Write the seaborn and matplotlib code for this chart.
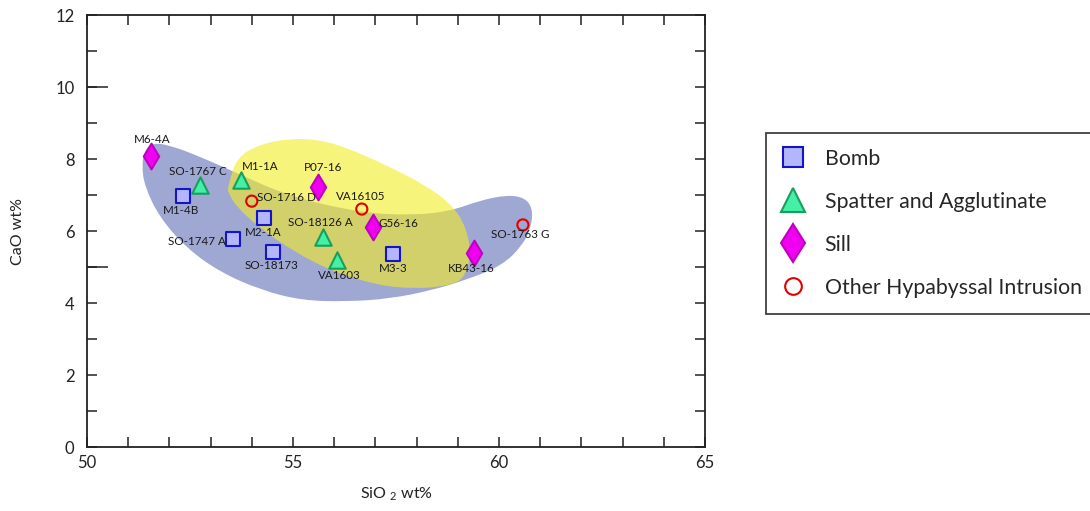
import numpy as np
import pandas as pd
import seaborn as sns
import matplotlib.pyplot as plt
from matplotlib.path import Path
from matplotlib.patches import PathPatch

# samples by type (SiO2 wt%, CaO wt%)
bomb_names = ["M1-4B", "M2-1A", "SO-1747 A", "SO-18173", "M3-3"]
bomb_sio2 = [52.33, 54.30, 53.54, 54.51, 57.43]
bomb_cao = [6.97, 6.36, 5.78, 5.42, 5.36]

spatter_names = ["SO-1767 C", "M1-1A", "SO-18126 A", "VA1603"]
spatter_sio2 = [52.74, 53.74, 55.73, 56.07]
spatter_cao = [7.27, 7.42, 5.83, 5.19]

sill_names = ["M6-4A", "P07-16", "G56-16", "KB43-16"]
sill_sio2 = [51.55, 55.61, 56.94, 59.39]
sill_cao = [8.08, 7.22, 6.11, 5.39]

other_names = ["SO-1716 D", "VA16105", "SO-1763 G"]
other_sio2 = [54.00, 56.67, 60.58]
other_cao = [6.83, 6.61, 6.17]

# shaded fields (outline vertices)
blue_field_sio2 = [51.60, 52.01, 52.67, 53.54, 54.93, 56.70, 57.91, 58.81, 59.54, 60.19,
                   60.62, 60.82, 60.78, 60.58, 60.08, 59.17, 58.35, 57.35, 56.31, 55.22,
                   54.22, 53.23, 52.42, 51.76, 51.40, 51.33, 51.40]
blue_field_cao = [8.45, 8.38, 8.10, 7.66, 6.95, 6.50, 6.44, 6.55, 6.85, 7.00,
                  6.93, 6.62, 6.11, 5.62, 5.04, 4.63, 4.35, 4.12, 4.04, 4.07,
                  4.36, 4.86, 5.52, 6.38, 7.24, 7.82, 8.25]
yellow_field_sio2 = [53.42, 53.63, 54.22, 54.93, 55.62, 56.27, 57.25, 58.24, 58.90, 59.23,
                     59.32, 59.13, 58.68, 57.91, 57.08, 56.01, 55.03, 54.20, 53.63, 53.42]
yellow_field_cao = [7.22, 8.05, 8.42, 8.57, 8.54, 8.33, 7.84, 7.26, 6.69, 6.03,
                    5.24, 4.64, 4.46, 4.40, 4.49, 4.85, 5.42, 6.08, 6.67, 7.08]

# label placement: offset in pixels from the point, alignment
label_pos = {
    "M6-4A": (1, 17, "center"), "SO-1767 C": (-2, 14, "center"),
    "M1-4B": (-2, -14, "center"), "M1-1A": (1, 13, "left"),
    "SO-1716 D": (5, 4, "left"), "P07-16": (5, 20, "center"),
    "VA16105": (-1, 13, "center"), "SO-18126 A": (-3, 15, "center"),
    "G56-16": (6, 4, "left"), "M2-1A": (-1, -14, "center"),
    "SO-1747 A": (-7, -3, "right"), "SO-18173": (-1, -14, "center"),
    "VA1603": (2, -15, "center"), "M3-3": (0, -14, "center"),
    "KB43-16": (-3, -16, "center"), "SO-1763 G": (-3, -10, "center"),
}

sns.set_style("ticks")
plt.rcParams['font.family'] = ['Lato', 'DejaVu Sans']
plt.rcParams['mathtext.default'] = 'regular'


def smooth_field(xs, ys):
    pts = np.column_stack([xs, ys])
    mids = (pts + np.roll(pts, -1, axis=0)) / 2
    verts = [mids[-1]]
    codes = [Path.MOVETO]
    for i in range(len(pts)):
        verts += [pts[i], mids[i]]
        codes += [Path.CURVE3, Path.CURVE3]
    return Path(verts, codes)


fig = plt.figure(figsize=(10.9, 5.11), dpi=100)
ax = fig.add_axes([0.0798, 0.1252, 0.567, 0.8454])

ax.add_patch(PathPatch(smooth_field(blue_field_sio2, blue_field_cao),
                       facecolor='#9fa7d3', edgecolor='none', zorder=1))
ax.add_patch(PathPatch(smooth_field(yellow_field_sio2, yellow_field_cao),
                       facecolor='#f3ed25', alpha=0.6, edgecolor='none', zorder=2))

groups = [
    ("Bomb", bomb_names, bomb_sio2, bomb_cao, 's', '#b3b6fa', '#1414cc', 100),
    ("Spatter and Agglutinate", spatter_names, spatter_sio2, spatter_cao, '^', '#43f0a6', '#17a05c', 140),
    ("Sill", sill_names, sill_sio2, sill_cao, 'd', '#f000f0', '#c000c0', 170),
    ("Other Hypabyssal Intrusion", other_names, other_sio2, other_cao, 'o', 'none', '#e00000', 64),
]

for label, names, xs, ys, mk, fc, ec, size in groups:
    df = pd.DataFrame({"SiO2": xs, "CaO": ys, "name": names})
    sns.scatterplot(data=df, x="SiO2", y="CaO", marker=mk, s=size, color=fc,
                    edgecolor=ec, linewidth=1.5, label=label, ax=ax, zorder=3,
                    legend=False)
    for n, x, y in zip(names, xs, ys):
        dx, dy, ha = label_pos[n]
        ax.annotate(n, (x, y), xytext=(dx * 0.72, dy * 0.72), textcoords='offset points',
                    ha=ha, va='center', fontsize=8.4, color='#1a1a1a', zorder=4)

ax.set_xlim(50, 65)
ax.set_ylim(0, 12)
ax.set_xticks(np.arange(50, 66, 1))
ax.set_xticklabels([str(v) if v % 5 == 0 else '' for v in range(50, 66)])
ax.set_yticks(np.arange(0, 13, 1))
ax.set_yticklabels([str(v) if v % 2 == 0 else '' for v in range(0, 13)])
ax.tick_params(direction='in', length=7, width=1.1, top=True, right=True,
               labelsize=12, colors='#222222')
ax.tick_params(axis='x', pad=6)
ax.tick_params(axis='y', pad=9)
# longer ticks at 5 and 10 on the CaO axis
ax.yaxis.remove_overlapping_locs = False
ax.set_yticks([5, 10], minor=True)
ax.tick_params(axis='y', which='minor', direction='in', length=15, width=1.1,
               left=True, right=False, colors='#222222')
for sp in ax.spines.values():
    sp.set_linewidth(1.3)
    sp.set_color('#222222')

ax.set_xlabel("SiO $_{2}$ wt%", fontsize=11.5, labelpad=10, color='#222222')
ax.set_ylabel("CaO wt%", fontsize=11.5, labelpad=22, color='#222222')

handles = [plt.Line2D([], [], linestyle='none', marker=g[4], markerfacecolor=g[5],
                      markeredgecolor=g[6], markeredgewidth=1.5,
                      markersize=np.sqrt(g[7]) * 1.5) for g in groups]
leg = fig.legend(handles, [g[0] for g in groups], loc='upper left',
                 bbox_to_anchor=(0.703, 0.740), fontsize=15.3, frameon=True,
                 fancybox=False, edgecolor='#111111', borderpad=0.75,
                 labelspacing=1.08, handlelength=1.0, handletextpad=1.0,
                 borderaxespad=0)
leg.get_frame().set_linewidth(1.3)

fig.savefig("out.png", dpi=100)
